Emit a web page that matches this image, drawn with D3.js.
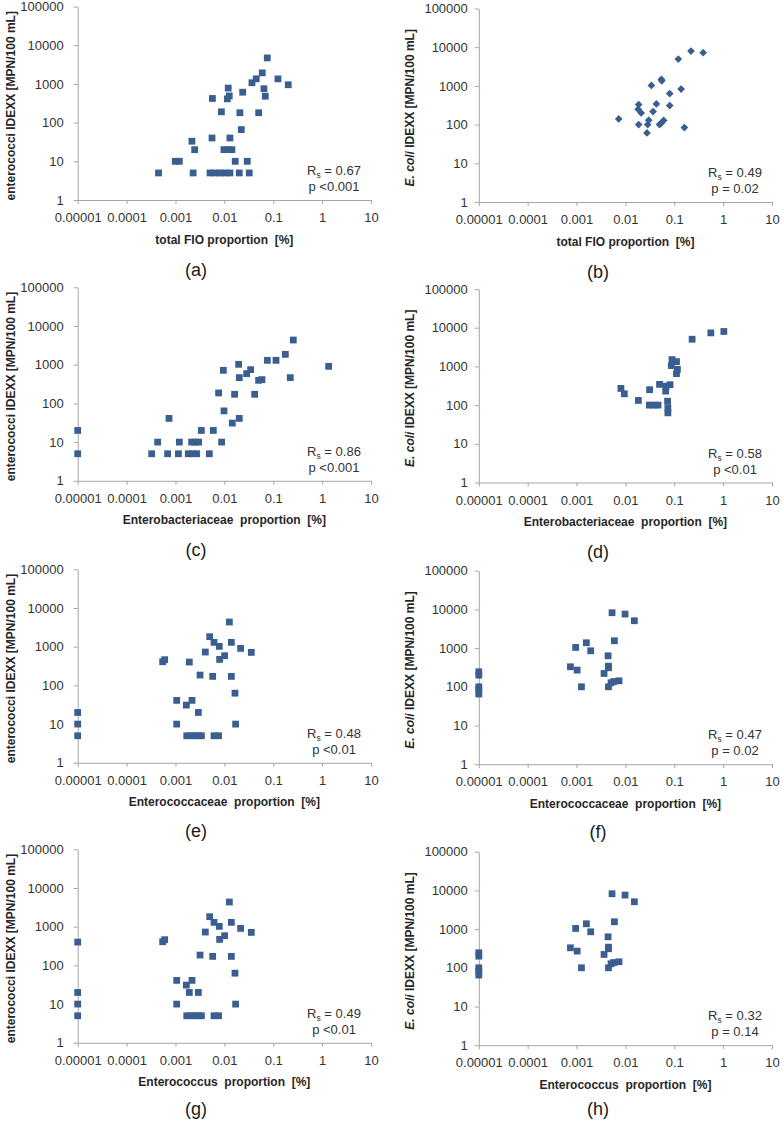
<!DOCTYPE html>
<html>
<head>
<meta charset="utf-8">
<script src="https://cdn.jsdelivr.net/npm/d3@7"></script>
<style>
body { margin: 0; background: #fff; }
svg { display: block; }
text { font-family: "Liberation Sans", Arial, sans-serif; white-space: pre; }
</style>
</head>
<body>
<svg id="chart" width="783" height="1124"></svg>
<script>
// tick labels
const xTicks = [0.00001, 0.0001, 0.001, 0.01, 0.1, 1, 10];
const xTickLabels = ["0.00001", "0.0001", "0.001", "0.01", "0.1", "1", "10"];
const yTicks = [1, 10, 100, 1000, 10000, 100000];
const yTickLabels = ["1", "10", "100", "1000", "10000", "100000"];

// panel text
const panelIds = ["(a)", "(b)", "(c)", "(d)", "(e)", "(f)", "(g)", "(h)"];
const xTitles = [
  "total FIO proportion  [%]", "total FIO proportion  [%]",
  "Enterobacteriaceae  proportion  [%]", "Enterobacteriaceae  proportion  [%]",
  "Enterococcaceae  proportion  [%]", "Enterococcaceae  proportion  [%]",
  "Enterococcus  proportion  [%]", "Enterococcus  proportion  [%]"
];
const rsValues = ["0.67", "0.49", "0.86", "0.58", "0.48", "0.47", "0.49", "0.32"];
const pValues = ["p <0.001", "p = 0.02", "p <0.001", "p <0.01", "p <0.01", "p = 0.02", "p <0.01", "p = 0.14"];

// (a) enterococci vs total FIO
const aX = [0.00045, 0.00099, 0.0012, 0.00217, 0.00247, 0.0023, 0.0051, 0.0064, 0.0081, 0.0103, 0.013,
  0.0056, 0.0098, 0.0122, 0.0143, 0.013, 0.0167, 0.0202, 0.0222, 0.0294, 0.0323, 0.0087, 0.0057,
  0.012, 0.0126, 0.0115, 0.0208, 0.0237, 0.0367, 0.0449, 0.0504, 0.0596, 0.0646, 0.0687, 0.0755, 0.125, 0.203];
const aY = [5, 10, 10, 33, 20, 5, 5, 5, 5, 5, 5,
  40, 20, 20, 20, 40, 10, 5, 66, 10, 5, 190, 420,
  780, 490, 410, 180, 610, 1070, 1350, 180, 1930, 750, 480, 4700, 1350, 950];

// (b) E. coli vs total FIO
const bX = [0.0073, 0.0187, 0.0182, 0.021, 0.0187, 0.034, 0.0286, 0.03, 0.0276, 0.0368, 0.043, 0.0545,
  0.0555, 0.05, 0.0545, 0.0607, 0.0806, 0.0806, 0.121, 0.138, 0.161, 0.22, 0.39];
const bY = [140, 330, 250, 200, 100, 1030, 100, 130, 61, 217, 342, 1480,
  1350, 100, 110, 128, 635, 310, 4930, 830, 84, 7940, 7210];

// (c) enterococci vs Enterobacteriaceae
const cX = [0.00001, 0.00001, 0.000326, 0.000433, 0.00069, 0.000738, 0.00115, 0.0012, 0.00183, 0.00225,
  0.00272, 0.00214, 0.0025, 0.00298, 0.00338, 0.00493, 0.00595, 0.0088, 0.00764, 0.00953, 0.00984,
  0.01455, 0.0162, 0.0196, 0.0202, 0.0202, 0.0286, 0.0345, 0.0417, 0.0502, 0.0588, 0.0757, 0.114,
  0.177, 0.223, 0.257, 1.36];
const cY = [20, 5, 5, 10, 5, 41, 5, 10, 5, 5,
  5, 10, 10, 10, 20, 5, 20, 10, 186, 716, 64,
  31, 172, 1023, 463, 41, 587, 745, 172, 395, 411, 1297, 1297,
  1850, 463, 4340, 907];

// (d) E. coli vs Enterobacteriaceae
const dX = [0.0081, 0.0095, 0.0184, 0.0313, 0.031, 0.038, 0.0466, 0.05, 0.0667, 0.068, 0.082, 0.073,
  0.074, 0.074, 0.09, 0.111, 0.087, 0.116, 0.111, 0.232, 0.56, 1.035];
const dY = [270, 196, 132, 250, 100, 100, 100, 343, 230, 310, 337, 126,
  85, 63, 1500, 1330, 1050, 840, 650, 5040, 7350, 7980];

// (e) enterococci vs Enterococcaceae
const eX = [0.00001, 0.00001, 0.00001, 0.000547, 0.000601, 0.00106, 0.00106, 0.00167, 0.00192, 0.00218,
  0.00294, 0.00318, 0.0017, 0.00205, 0.00247, 0.00298, 0.0034, 0.00408, 0.00501, 0.00577, 0.00614,
  0.00614, 0.00764, 0.00789, 0.008, 0.0101, 0.01265, 0.0139, 0.0139, 0.0165, 0.017, 0.0215, 0.0356];
const eY = [20, 10, 5, 409, 461, 41, 10, 31, 401, 41,
  20, 185, 5, 5, 5, 5, 5, 728, 1815, 171, 1295,
  5, 5, 1020, 470, 585, 4345, 1295, 171, 63, 10, 905, 713];

// (f) E. coli vs Enterococcaceae
const fX = [0.00001, 0.00001, 0.00001, 0.00001, 0.00001, 0.00075, 0.00096, 0.00103, 0.00126, 0.00159,
  0.00195, 0.00366, 0.00442, 0.0045, 0.0045, 0.0045, 0.00508, 0.00577, 0.0074, 0.00533, 0.00595,
  0.00984, 0.01525];
const fY = [245, 200, 100, 82, 65, 329, 1040, 270, 100, 1374,
  852, 221, 632, 342, 310, 100, 127, 137, 143, 8200, 1548,
  7570, 5090];

// (g) enterococci vs Enterococcus
const gX = [0.00001, 0.00001, 0.00001, 0.00001, 0.000547, 0.000601, 0.00106, 0.00106, 0.00167, 0.00192,
  0.00218, 0.00294, 0.00318, 0.0017, 0.00205, 0.00247, 0.00298, 0.0034, 0.00408, 0.00501, 0.00577,
  0.00614, 0.00614, 0.00764, 0.00789, 0.008, 0.0101, 0.01265, 0.0139, 0.0139, 0.0165, 0.017, 0.0215, 0.0356];
const gY = [400, 20, 10, 5, 409, 461, 41, 10, 31, 20,
  41, 20, 185, 5, 5, 5, 5, 5, 728, 1815, 171,
  1295, 5, 5, 1020, 470, 585, 4345, 1295, 171, 63, 10, 905, 713];

// (h) E. coli vs Enterococcus
const hX = [0.00001, 0.00001, 0.00001, 0.00001, 0.00001, 0.00075, 0.00096, 0.00103, 0.00126, 0.00159,
  0.00195, 0.00366, 0.00442, 0.0045, 0.0045, 0.0045, 0.00508, 0.00577, 0.0074, 0.00533, 0.00595,
  0.00984, 0.01525];
const hY = [245, 200, 100, 82, 65, 329, 1040, 270, 100, 1374,
  852, 221, 632, 342, 310, 100, 127, 137, 143, 8200, 1548,
  7570, 5090];

// layout
const colX = [[77.7, 371], [478.8, 772]];
const panelTops = [6.5, 8.5, 287.3, 289, 569.3, 570.7, 849.3, 851.7];
const plotH = 193.5;
const labelGap = [10, 7];
const yTitleX = [14.5, 413.5];
const idX = [196, 598];
const idOffset = [76, 76, 75, 75, 74, 74, 72, 70];
const markColor = "#3a5e8f";
const axisColor = "#a6a6a6";
const textColor = "#333333";

const xsAll = [aX, bX, cX, dX, eX, fX, gX, hX];
const ysAll = [aY, bY, cY, dY, eY, fY, gY, hY];

const svg = d3.select("#chart");

xsAll.forEach((xs, i) => {
  const col = i % 2;
  const top = panelTops[i];
  const bottom = top + plotH;
  const [x0, x1] = colX[col];

  const x = d3.scaleLog().domain([0.00001, 10]).range([x0, x1]);
  const y = d3.scaleLog().domain([1, 100000]).range([bottom, top]);

  const g = svg.append("g");

  // x axis
  const xAxis = g.append("g")
    .attr("transform", `translate(0,${bottom})`)
    .call(d3.axisBottom(x).tickValues(xTicks).tickFormat((d, k) => xTickLabels[k])
      .tickSize(4).tickSizeOuter(0).tickPadding(9));
  // y axis
  const yAxis = g.append("g")
    .attr("transform", `translate(${x0},0)`)
    .call(d3.axisLeft(y).tickValues(yTicks).tickFormat((d, k) => yTickLabels[k])
      .tickSize(4).tickSizeOuter(0).tickPadding(labelGap[col]));

  [xAxis, yAxis].forEach(ax => {
    ax.select(".domain").attr("stroke", axisColor);
    ax.selectAll(".tick line").attr("stroke", axisColor);
    ax.selectAll(".tick text").attr("fill", textColor)
      .style("font-size", "13px").style("font-family", '"Liberation Sans", Arial, sans-serif');
  });

  // markers
  const ys = ysAll[i];
  const pts = xs.map((v, k) => [v, ys[k]]);
  const isDiamond = i === 1;
  const sym = d3.symbol().type(d3.symbolSquare).size(isDiamond ? 30 : 46);
  g.append("g").selectAll("path")
    .data(pts)
    .join("path")
    .attr("d", sym)
    .attr("fill", markColor)
    .attr("transform", d => `translate(${x(d[0])},${y(d[1])})` + (isDiamond ? " rotate(45)" : ""));

  // x title
  g.append("text")
    .attr("x", (x0 + x1) / 2)
    .attr("y", bottom + 43.5)
    .attr("text-anchor", "middle")
    .attr("font-weight", "bold")
    .attr("font-size", 12)
    .attr("fill", "#262626")
    .text(xTitles[i]);

  // y title
  const yt = g.append("text")
    .attr("transform", `translate(${yTitleX[col]},${(top + bottom) / 2 + 2.5}) rotate(-90)`)
    .attr("text-anchor", "middle")
    .attr("font-weight", "bold")
    .attr("font-size", 12)
    .attr("fill", "#262626");
  if (col === 0) {
    yt.text("enterococci IDEXX [MPN/100 mL]");
  } else {
    yt.append("tspan").attr("font-style", "italic").text("E. coli");
    yt.append("tspan").text(" IDEXX [MPN/100 mL]");
  }

  // correlation text
  const sx = x1 - 37;
  const rs = g.append("text")
    .attr("x", sx)
    .attr("y", bottom - 25)
    .attr("text-anchor", "middle")
    .attr("font-size", 13)
    .attr("fill", textColor);
  rs.append("tspan").text("R");
  rs.append("tspan").attr("font-size", 8.5).attr("dy", 3).text("s");
  rs.append("tspan").attr("dy", -3).text(" = " + rsValues[i]);

  g.append("text")
    .attr("x", sx)
    .attr("y", bottom - 9)
    .attr("text-anchor", "middle")
    .attr("font-size", 13)
    .attr("fill", textColor)
    .text(pValues[i]);

  // panel id
  g.append("text")
    .attr("x", idX[col])
    .attr("y", bottom + idOffset[i])
    .attr("text-anchor", "middle")
    .attr("font-size", 18)
    .attr("fill", "#1a1a1a")
    .text(panelIds[i]);
});
</script>
</body>
</html>
